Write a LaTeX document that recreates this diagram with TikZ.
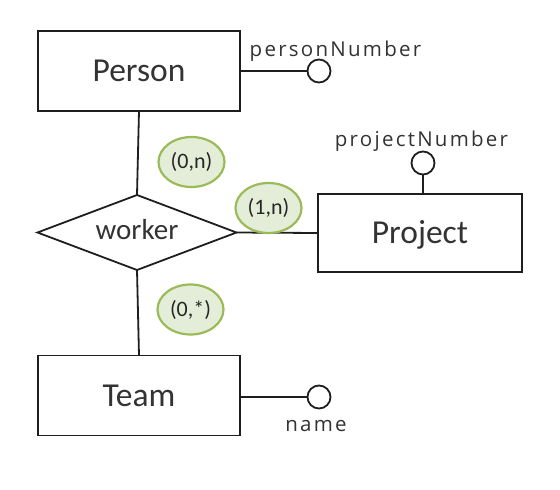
\documentclass[tikz,border=0pt]{standalone}
\usepackage{fontspec}
\setmainfont{Carlito}
\newfontfamily\attrfont[LetterSpace=11]{Open Sans}
\usetikzlibrary{shapes.geometric}
\definecolor{txt}{HTML}{333333}
\definecolor{ln}{HTML}{1E1E1E}
\definecolor{cardfill}{HTML}{E4EDD8}
\definecolor{cardline}{HTML}{9BBB59}
\begin{document}
\begin{tikzpicture}[x=1pt,y=-1pt,
  entity/.style={draw=ln,line width=1.8pt,rectangle,minimum width=202pt,minimum height=80pt,inner sep=0pt,outer sep=0pt,font=\fontsize{33.5}{40}\selectfont,text=txt,text height=21.6pt,text depth=0pt},
  rel/.style={draw=ln,line width=1.8pt,diamond,aspect=2.65,minimum width=199pt,minimum height=75pt,inner sep=0pt,outer sep=0pt,font=\fontsize{29}{34}\selectfont,text=txt,text height=13.5pt,text depth=0pt},
  card/.style={ellipse,draw=cardline,fill=cardfill,line width=2.2pt,minimum width=66pt,minimum height=50pt,inner sep=0pt,font=\fontsize{22}{26}\selectfont,text=black!85},
  attr/.style={circle,draw=ln,line width=1.8pt,minimum size=23pt,inner sep=0pt,outer sep=0pt,fill=white},
  alabel/.style={font=\attrfont\fontsize{20.5}{25}\selectfont,text=txt,anchor=base,inner sep=0pt},
  conn/.style={draw=ln,line width=1.8pt}]
\useasboundingbox (0,0) rectangle (560,490);
% entities and relationship
\node[entity] (person) at (139,71) {Person};
\node[entity,minimum width=204pt,minimum height=78pt] (project) at (420,233) {Project};
\node[entity] (team) at (139,395.5) {Team};
\node[rel] (worker) at (137,232.5) {worker};
% attribute circles
\node[attr] (pnc) at (319,71) {};
\node[attr] (pjc) at (423,163) {};
\node[attr] (nmc) at (319,397) {};
% attribute labels
\node[alabel] (pnl) at (335.5,56.7) {personNumber};
\node[alabel] (pjl) at (421.5,146) {projectNumber};
\node[alabel] (nml) at (316,431.7) {name};
% connectors
\draw[conn] (person.south) -- (worker.north);
\draw[conn] (worker.south) -- (team.north);
\draw[conn] (worker.east) -- (project.west);
\draw[conn] (person.east) -- (pnc.west);
\draw[conn] (pjc.south) -- (pjc.south |- project.north);
\draw[conn] (team.east |- nmc.west) -- (nmc.west);
% cardinalities
\node[card] (c1) at (191.5,162) {(0,n)};
\node[card] (c2) at (268.5,208) {(1,n)};
\node[card] (c3) at (190.5,309.5) {(0,*)};
\end{tikzpicture}
\end{document}
